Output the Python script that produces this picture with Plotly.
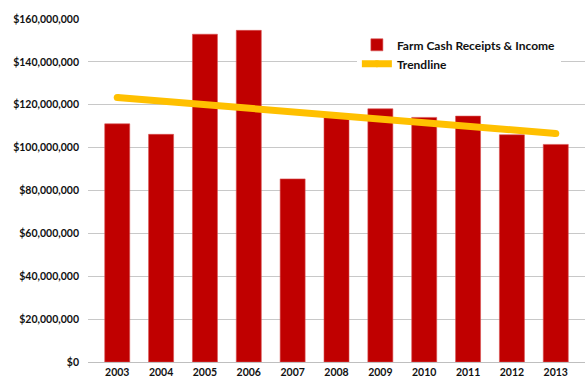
import plotly.graph_objects as go

# Farm cash receipts & income by year
years = ["2003", "2004", "2005", "2006", "2007", "2008",
         "2009", "2010", "2011", "2012", "2013"]
receipts = [111_100_000, 106_200_000, 152_900_000, 154_700_000, 85_400_000,
            115_000_000, 118_100_000, 114_100_000, 114_700_000, 106_000_000,
            101_500_000]

# Linear trendline endpoints (first and last year)
trend_years = ["2003", "2013"]
trend_values = [123_400_000, 106_600_000]

y_ticks = [0, 20_000_000, 40_000_000, 60_000_000, 80_000_000,
           100_000_000, 120_000_000, 140_000_000, 160_000_000]
y_tick_text = ["$0", "$20,000,000", "$40,000,000", "$60,000,000", "$80,000,000",
               "$100,000,000", "$120,000,000", "$140,000,000", "$160,000,000"]

FONT = "Lato, 'Noto Sans', sans-serif"

fig = go.Figure()
fig.add_trace(go.Bar(
    x=years, y=receipts, name="Farm Cash Receipts & Income",
    marker=dict(color="#C00000", line=dict(color="#D85050", width=0.6)),
))
fig.add_trace(go.Scatter(
    x=trend_years, y=trend_values, name="Trendline", mode="lines+markers",
    line=dict(color="#FFC000", width=7),
    marker=dict(color="#FFC000", size=7, line=dict(width=0)),
))

fig.update_layout(
    width=586, height=389,
    margin=dict(l=88, r=1, t=19, b=27),
    paper_bgcolor="white", plot_bgcolor="white",
    bargap=0.43,
    showlegend=True,
    legend=dict(
        x=0.541, y=0.967, xanchor="left", yanchor="top",
        bgcolor="white", itemwidth=30, tracegroupgap=0,
        font=dict(family=FONT, size=12, color="#111111", weight="bold"),
    ),
    font=dict(family=FONT, color="#111111"),
)
fig.update_xaxes(
    type="category", showgrid=False, showline=True, linecolor="#BFBFBF",
    linewidth=1, ticks="", tickfont=dict(family=FONT, size=10.5, weight="bold"),
)
fig.update_yaxes(
    range=[0, 160_000_000], tickvals=y_ticks, ticktext=y_tick_text,
    showgrid=True, gridcolor="#C8C8C8", gridwidth=1, zeroline=False,
    showline=False, ticks="", ticklabelstandoff=8,
    tickfont=dict(family=FONT, size=10.5, weight="bold"),
)

fig.write_html("out.html")
